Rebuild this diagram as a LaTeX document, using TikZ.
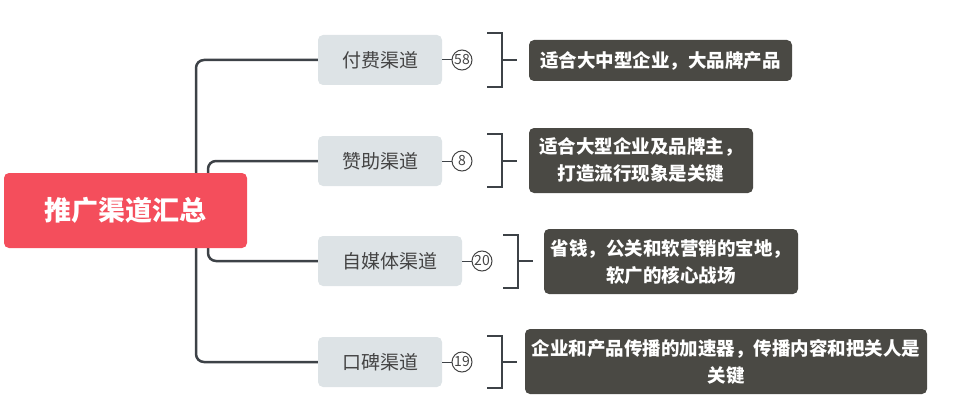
\documentclass[tikz,border=0pt]{standalone}
\usepackage{fontspec}
\setmainfont{Noto Sans CJK SC}[BoldFont={Noto Sans CJK SC Black}]
\usetikzlibrary{backgrounds}
\definecolor{rootred}{HTML}{F44E5C}
\definecolor{graybox}{HTML}{DDE3E6}
\definecolor{darkbox}{HTML}{4A4944}
\definecolor{linec}{HTML}{3D4247}
\definecolor{txtc}{HTML}{444444}
\begin{document}
\begin{tikzpicture}[x=1pt,y=-1pt,
  rootbox/.style={fill=rootred, rounded corners=5pt, text=white, font=\fontsize{27}{30}\selectfont\bfseries, minimum width=243pt, minimum height=75pt, inner sep=0pt},
  chbox/.style={fill=graybox, rounded corners=5pt, text=txtc, font=\fontsize{19}{22}\selectfont, minimum height=50pt, inner sep=0pt},
  notebox/.style={fill=darkbox, rounded corners=5pt, text=white, font=\fontsize{18.5}{27}\selectfont\bfseries, align=center, inner sep=0pt},
  badge/.style={circle, draw=txtc, line width=1pt, minimum size=20pt, inner sep=0pt, text=txtc, font=\fontsize{14}{14}\selectfont},
  conn/.style={draw=linec, line width=2.5pt, rounded corners=8pt},
  thin/.style={draw=linec, line width=1pt},
  brk/.style={draw=linec, line width=2.5pt}
]
\useasboundingbox (0,0) rectangle (962,404);

\node[rootbox] (root) at (125.5,210.5) {推广渠道汇总};

\node[chbox, minimum width=124pt] (b1) at (380,60) {付费渠道};
\node[chbox, minimum width=124pt] (b2) at (380,161) {赞助渠道};
\node[chbox, minimum width=144pt] (b3) at (390,261) {自媒体渠道};
\node[chbox, minimum width=124pt] (b4) at (380,362) {口碑渠道};

\coordinate (tout) at (196,0);
\coordinate (tin) at (208,0);
\begin{scope}[on background layer]
\draw[conn] (b1.west) -| (tout |- b4.west) -- (b4.west);
\draw[conn] (b2.west) -| (tin |- root.north);
\draw[conn] (tin |- root.south) |- (b3.west);
\end{scope}

\node[badge] (c1) at (462,60) {58};
\node[badge] (c2) at (462,161) {8};
\node[badge] (c3) at (482,261) {20};
\node[badge] (c4) at (462,362) {19};
\draw[thin] (b1.east) -- (c1.west);
\draw[thin] (b2.east) -- (c2.west);
\draw[thin] (b3.east) -- (c3.west);
\draw[thin] (b4.east) -- (c4.west);

\node[notebox, minimum width=263pt, minimum height=41pt] (n1) at (660.5,60.5) {适合大中型企业，大品牌产品};
\node[notebox, minimum width=224pt, minimum height=65pt] (n2) at (641,160.5) {适合大型企业及品牌主，\\打造流行现象是关键};
\node[notebox, minimum width=254pt, minimum height=65pt] (n3) at (671,261.5) {省钱，公关和软营销的宝地，\\软广的核心战场};
\node[notebox, minimum width=402pt, minimum height=65pt] (n4) at (726,361.5) {企业和产品传播的加速器，传播内容和把关人是\\关键};

% brackets
\draw[brk] (487,33) -- (502,33) -- (502,87) -- (487,87);
\draw[brk] (502,60) -- (517,60);
\draw[brk] (487,134) -- (502,134) -- (502,187) -- (487,187);
\draw[brk] (502,161) -- (517,161);
\draw[brk] (503,235) -- (518,235) -- (518,288) -- (503,288);
\draw[brk] (518,261) -- (533,261);
\draw[brk] (487,336) -- (502,336) -- (502,388) -- (487,388);
\draw[brk] (502,362) -- (517,362);
\end{tikzpicture}
\end{document}
